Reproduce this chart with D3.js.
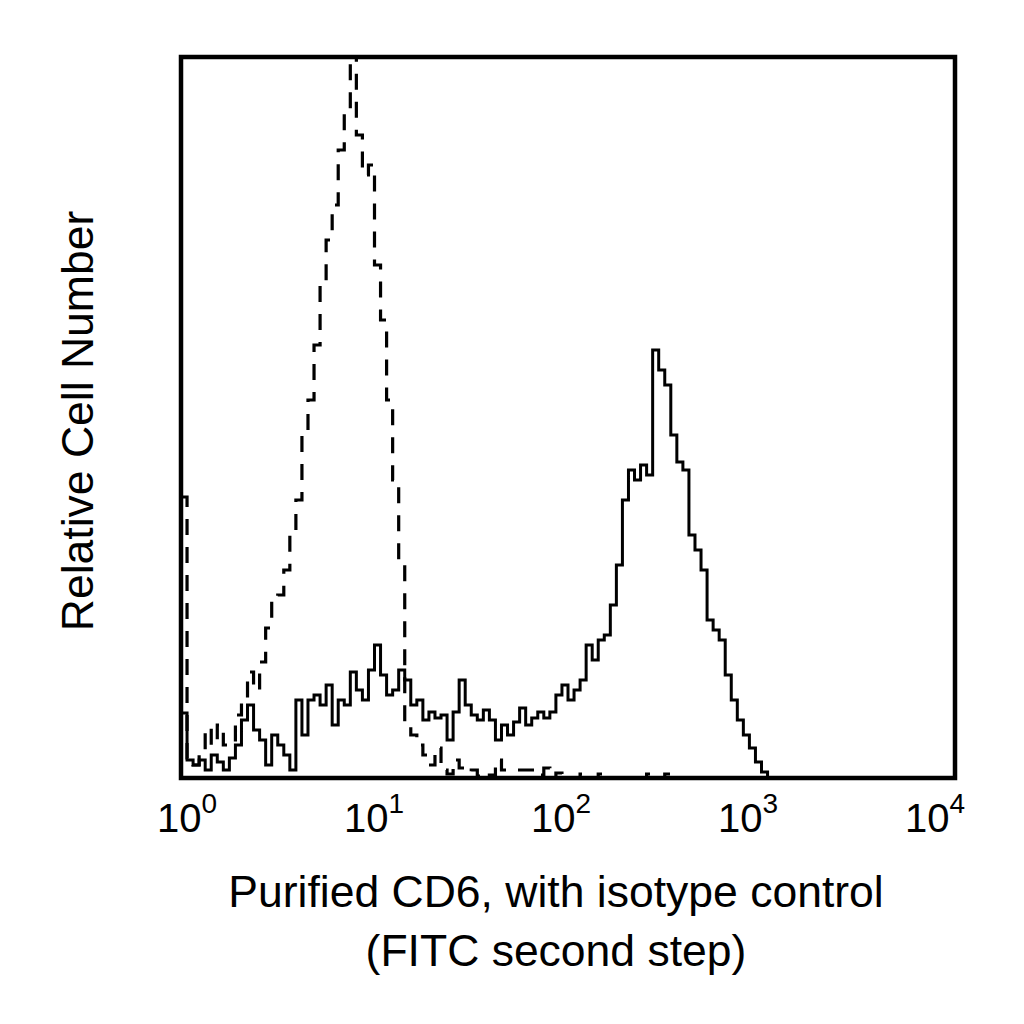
<!DOCTYPE html>
<html>
<head>
<meta charset="utf-8">
<script src="https://cdn.jsdelivr.net/npm/d3@7"></script>
<style>
  html, body { margin: 0; padding: 0; background: #fff; }
  svg { display: block; }
  text { font-family: "Liberation Sans", Arial, sans-serif; fill: #000; }
</style>
</head>
<body>
<svg id="chart" width="1024" height="1024"></svg>
<script>
// ---- Data (128 channels, 32 per decade, relative counts) ----
const decadeTicks = [1, 10, 100, 1000, 10000];
const tickExponents = ["0", "1", "2", "3", "4"];
const xTitleLines = ["Purified CD6, with isotype control", "(FITC second step)"];
const yTitle = "Relative Cell Number";

// Isotype control (dashed)
const isotypeCounts = [
  281, 20, 13, 23, 50, 33, 53, 33, 36, 63,
  78, 106, 88, 116, 150, 180, 183, 208, 243, 278,
  343, 378, 433, 493, 538, 573, 628, 668, 740, 643,
  603, 613, 513, 458, 378, 298, 213, 53, 43, 33,
  23, 13, 30, 8, 4, 18, 10, 6, 8, 2,
  0, 3, 18, 8, 8, 8, 8, 8, 8, 3,
  10, 0, 5, 0, 0, 0, 4, 0, 0, 4,
  0, 0, 0, 0, 0, 0, 0, 4, 0, 0,
  4, 0, 0, 0, 0, 0, 0, 0, 0, 0,
  0, 0, 0, 0, 0, 0, 0, 0, 0, 0,
  0, 0, 0, 0, 0, 0, 0, 0, 0, 0,
  0, 0, 0, 0, 0, 0, 0, 0, 0, 0,
  0, 0, 0, 0, 0, 0, 0, 0
];

// Purified CD6 (solid)
const cd6Counts = [
  65, 18, 13, 18, 8, 23, 16, 8, 20, 33,
  58, 73, 48, 38, 13, 43, 33, 23, 8, 78,
  43, 78, 83, 73, 93, 53, 78, 73, 106, 88,
  78, 108, 133, 103, 83, 88, 108, 98, 73, 78,
  58, 66, 60, 63, 38, 66, 98, 73, 63, 58,
  68, 58, 38, 53, 43, 56, 70, 53, 60, 66,
  60, 66, 83, 93, 78, 88, 98, 133, 118, 138,
  143, 173, 213, 278, 308, 298, 313, 303, 428, 408,
  393, 343, 316, 308, 243, 228, 208, 158, 148, 138,
  103, 78, 58, 43, 30, 16, 6, 0, 0, 0,
  0, 0, 0, 0, 0, 0, 0, 0, 0, 0,
  0, 0, 0, 0, 0, 0, 0, 0, 0, 0,
  0, 0, 0, 0, 0, 0, 0, 0
];

const channelsPerDecade = 32;

// ---- Layout ----
const svg = d3.select("#chart");
const plot = { left: 181, right: 955, top: 57, bottom: 778 };

const x = d3.scaleLog().domain([1, 10000]).range([plot.left, plot.right]);
const xLabel = d3.scaleLog().domain([1, 10000]).range([187, 935]);
const y = d3.scaleLinear().domain([0, 720]).range([778, 58]);

function toSeries(counts) {
  const pts = counts.map((c, i) => ({ v: Math.pow(10, i / channelsPerDecade), c }));
  pts.push({ v: Math.pow(10, counts.length / channelsPerDecade), c: counts[counts.length - 1] });
  return pts;
}

svg.append("clipPath").attr("id", "clip")
  .append("rect")
  .attr("x", plot.left).attr("y", plot.top)
  .attr("width", plot.right - plot.left).attr("height", plot.bottom - plot.top);

const line = d3.line()
  .x(d => x(d.v))
  .y(d => y(d.c))
  .curve(d3.curveStepAfter);

const g = svg.append("g").attr("clip-path", "url(#clip)");

g.append("path")
  .datum(toSeries(isotypeCounts))
  .attr("d", line)
  .attr("fill", "none")
  .attr("stroke", "#000")
  .attr("stroke-width", 3.2)
  .attr("stroke-dasharray", "16,12");

g.append("path")
  .datum(toSeries(cd6Counts))
  .attr("d", line)
  .attr("fill", "none")
  .attr("stroke", "#000")
  .attr("stroke-width", 3);

// Frame
svg.append("rect")
  .attr("x", plot.left).attr("y", plot.top)
  .attr("width", plot.right - plot.left).attr("height", plot.bottom - plot.top)
  .attr("fill", "none").attr("stroke", "#000").attr("stroke-width", 4.5);

// Tick labels
const tl = svg.append("g").selectAll("text")
  .data(decadeTicks)
  .join("text")
  .attr("x", d => xLabel(d))
  .attr("y", 832)
  .attr("text-anchor", "middle")
  .style("font-size", "40px");
tl.append("tspan").text("10");
tl.append("tspan").attr("dy", -19).style("font-size", "28px").text((d, i) => tickExponents[i]);

// X title
svg.append("g").selectAll("text")
  .data(xTitleLines)
  .join("text")
  .attr("x", 556)
  .attr("y", (d, i) => 907 + i * 59)
  .attr("text-anchor", "middle")
  .style("font-size", "44.5px")
  .text(d => d);

// Y title
svg.append("text")
  .attr("transform", "translate(93,421) rotate(-90)")
  .attr("text-anchor", "middle")
  .style("font-size", "44.5px")
  .text(yTitle);
</script>
</body>
</html>
